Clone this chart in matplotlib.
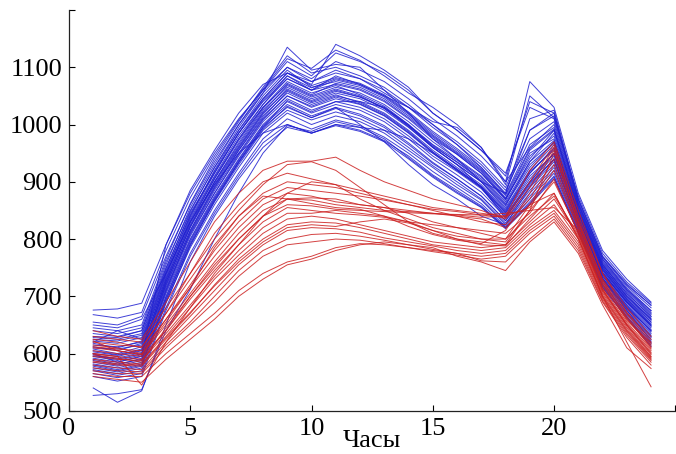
import matplotlib
matplotlib.use("Agg")
import matplotlib.pyplot as plt

# --- Data: hourly load profiles (hours 1..24) ---
hours = list(range(1, 25))

blue_profiles = [
    [676, 678, 688, 790, 880, 950, 1010, 1060, 1100, 1080, 1110, 1095, 1075, 1045, 1010, 980, 945, 900, 1075, 1030, 880, 780, 730, 690],
    [655, 650, 665, 770, 860, 935, 1000, 1055, 1135, 1095, 1105, 1100, 1060, 1020, 975, 940, 900, 880, 1010, 1025, 870, 770, 720, 685],
    [640, 635, 645, 760, 850, 925, 990, 1045, 1090, 1070, 1140, 1120, 1095, 1065, 1020, 990, 955, 915, 1030, 1010, 865, 765, 715, 675],
    [630, 628, 640, 750, 845, 915, 985, 1040, 1080, 1060, 1085, 1070, 1050, 1030, 1005, 995, 960, 900, 960, 1000, 860, 760, 710, 670],
    [625, 622, 632, 745, 840, 920, 990, 1050, 1095, 1065, 1075, 1065, 1045, 1015, 980, 950, 918, 870, 940, 990, 855, 755, 705, 665],
    [620, 640, 625, 740, 830, 905, 975, 1030, 1070, 1050, 1065, 1055, 1035, 1005, 970, 940, 910, 865, 935, 985, 850, 752, 700, 660],
    [615, 612, 620, 735, 835, 910, 980, 1035, 1085, 1060, 1070, 1060, 1040, 1010, 975, 948, 915, 868, 950, 975, 848, 750, 698, 658],
    [612, 605, 618, 730, 825, 900, 965, 1025, 1065, 1045, 1060, 1048, 1030, 998, 962, 935, 905, 860, 925, 970, 845, 748, 695, 655],
    [608, 600, 612, 725, 820, 895, 960, 1020, 1060, 1040, 1055, 1045, 1025, 995, 960, 930, 900, 855, 920, 965, 842, 745, 692, 652],
    [605, 598, 608, 728, 828, 905, 972, 1030, 1075, 1055, 1068, 1052, 1032, 1000, 965, 938, 908, 862, 930, 968, 846, 746, 694, 650],
    [600, 595, 605, 720, 815, 890, 955, 1015, 1055, 1035, 1050, 1040, 1020, 990, 955, 925, 895, 850, 915, 960, 840, 742, 690, 648],
    [598, 590, 600, 722, 822, 898, 962, 1022, 1068, 1048, 1062, 1050, 1028, 996, 960, 930, 900, 852, 918, 955, 838, 740, 688, 645],
    [595, 588, 598, 715, 810, 885, 950, 1010, 1050, 1030, 1045, 1035, 1015, 985, 950, 920, 890, 845, 905, 950, 835, 738, 685, 642],
    [592, 585, 595, 712, 808, 880, 945, 1005, 1045, 1025, 1040, 1030, 1010, 980, 945, 918, 888, 842, 900, 945, 832, 735, 682, 640],
    [590, 582, 590, 710, 812, 888, 955, 1012, 1058, 1038, 1052, 1038, 1018, 988, 952, 922, 892, 846, 910, 948, 834, 736, 684, 638],
    [585, 578, 588, 705, 800, 875, 940, 1000, 1040, 1020, 1035, 1025, 1005, 975, 940, 912, 882, 838, 895, 940, 828, 732, 680, 635],
    [582, 575, 585, 700, 798, 872, 938, 998, 1035, 1015, 1030, 1000, 970, 930, 895, 870, 840, 825, 890, 935, 825, 730, 678, 632],
    [580, 572, 582, 698, 795, 870, 935, 995, 1030, 1012, 1028, 1015, 995, 965, 932, 905, 875, 832, 885, 930, 822, 728, 675, 630],
    [575, 568, 578, 695, 790, 865, 930, 990, 1025, 1008, 1022, 1010, 990, 960, 928, 900, 870, 828, 880, 925, 820, 725, 672, 628],
    [572, 565, 575, 690, 785, 860, 925, 985, 1020, 1000, 1015, 1005, 985, 955, 925, 895, 868, 825, 875, 920, 818, 722, 670, 625],
    [570, 562, 570, 688, 788, 866, 935, 995, 1042, 1022, 1040, 1040, 1030, 1000, 960, 930, 890, 836, 898, 938, 826, 730, 676, 622],
    [565, 558, 565, 680, 775, 850, 915, 975, 1010, 992, 1008, 998, 978, 950, 918, 890, 862, 822, 870, 915, 815, 720, 668, 620],
    [560, 552, 560, 675, 770, 845, 910, 968, 1000, 985, 1000, 990, 972, 945, 912, 885, 858, 820, 865, 910, 812, 718, 665, 618],
    [540, 515, 535, 650, 760, 840, 905, 960, 995, 985, 998, 988, 970, 940, 908, 880, 855, 818, 860, 905, 810, 715, 662, 615],
    [527, 530, 537, 640, 712, 800, 880, 950, 998, 988, 1005, 995, 975, 942, 910, 882, 856, 820, 862, 908, 812, 716, 664, 612],
    [650, 645, 660, 740, 830, 895, 950, 985, 1000, 985, 1000, 995, 990, 975, 950, 920, 890, 840, 900, 950, 835, 740, 690, 650],
    [645, 640, 650, 765, 862, 940, 1005, 1065, 1120, 1090, 1100, 1085, 1065, 1035, 1000, 970, 935, 890, 990, 1015, 868, 768, 718, 680],
    [635, 630, 640, 755, 855, 930, 1000, 1060, 1110, 1085, 1125, 1110, 1090, 1060, 1020, 990, 955, 910, 1040, 1020, 870, 770, 722, 684],
    [628, 625, 635, 748, 848, 925, 995, 1055, 1100, 1075, 1090, 1080, 1060, 1030, 995, 965, 930, 885, 975, 1005, 862, 762, 712, 675],
    [618, 610, 622, 738, 838, 915, 985, 1045, 1090, 1068, 1082, 1072, 1052, 1022, 988, 958, 925, 878, 965, 995, 858, 758, 708, 668],
    [603, 597, 606, 725, 822, 900, 968, 1028, 1072, 1052, 1072, 1062, 1042, 1012, 978, 948, 915, 870, 945, 980, 850, 752, 700, 660],
    [596, 592, 602, 718, 815, 892, 958, 1018, 1062, 1042, 1058, 1048, 1028, 998, 964, 934, 902, 858, 935, 972, 845, 748, 696, 655],
    [588, 580, 592, 708, 805, 880, 948, 1008, 1050, 1032, 1048, 1036, 1016, 986, 952, 922, 892, 848, 915, 958, 838, 742, 690, 648],
    [578, 570, 580, 693, 792, 868, 933, 992, 1032, 1012, 1030, 1018, 998, 968, 934, 905, 875, 832, 892, 940, 828, 732, 680, 640],
    [610, 608, 615, 732, 832, 908, 975, 1035, 1080, 1060, 1078, 1068, 1048, 1018, 982, 952, 920, 872, 955, 990, 852, 755, 702, 662],
    [622, 618, 628, 742, 842, 918, 985, 1042, 1085, 1064, 1080, 1070, 1050, 1020, 985, 955, 922, 876, 958, 992, 855, 756, 705, 665],
    [668, 662, 672, 780, 872, 945, 1008, 1062, 1115, 1098, 1130, 1112, 1085, 1055, 1030, 1000, 960, 895, 1050, 1012, 875, 775, 725, 688],
    [600, 585, 596, 790, 885, 955, 1020, 1070, 1090, 1075, 1095, 1080, 1055, 1030, 1000, 965, 925, 880, 990, 1020, 862, 765, 712, 672],
]

red_profiles = [
    [640, 630, 625, 690, 760, 830, 880, 920, 936, 936, 943, 920, 900, 885, 870, 860, 850, 835, 890, 960, 840, 740, 680, 630],
    [630, 625, 620, 680, 740, 800, 850, 895, 930, 935, 920, 890, 860, 830, 810, 800, 795, 790, 850, 950, 830, 730, 670, 620],
    [620, 615, 612, 670, 730, 790, 840, 880, 900, 895, 890, 880, 870, 860, 850, 840, 830, 825, 870, 940, 825, 725, 665, 615],
    [615, 610, 600, 660, 715, 770, 820, 860, 880, 875, 865, 860, 855, 850, 845, 840, 835, 820, 860, 930, 820, 720, 660, 612],
    [610, 605, 598, 650, 705, 760, 810, 850, 870, 868, 860, 855, 850, 848, 845, 842, 838, 840, 855, 920, 818, 715, 655, 608],
    [605, 600, 595, 640, 700, 755, 800, 840, 860, 858, 852, 850, 848, 846, 844, 843, 842, 845, 850, 855, 815, 712, 652, 605],
    [600, 595, 590, 640, 695, 745, 790, 830, 855, 850, 845, 842, 838, 830, 825, 820, 815, 810, 845, 905, 810, 710, 650, 600],
    [595, 590, 588, 635, 685, 735, 780, 820, 845, 845, 850, 845, 840, 830, 815, 805, 800, 800, 840, 875, 808, 708, 648, 598],
    [590, 585, 582, 630, 680, 730, 772, 810, 835, 840, 835, 825, 815, 805, 795, 790, 785, 790, 830, 870, 805, 705, 645, 595],
    [585, 580, 578, 625, 670, 720, 765, 800, 825, 830, 828, 820, 810, 800, 790, 785, 780, 785, 825, 860, 800, 700, 640, 592],
    [580, 575, 572, 620, 665, 710, 755, 790, 815, 820, 818, 812, 802, 795, 788, 780, 775, 780, 820, 850, 795, 698, 638, 590],
    [575, 570, 568, 615, 655, 700, 745, 780, 800, 808, 810, 805, 798, 790, 782, 775, 770, 775, 815, 845, 790, 695, 635, 588],
    [570, 565, 565, 610, 650, 690, 735, 770, 790, 795, 800, 798, 792, 785, 778, 772, 765, 770, 810, 840, 785, 692, 632, 585],
    [565, 560, 560, 600, 635, 670, 710, 740, 760, 770, 785, 792, 790, 785, 780, 775, 762, 760, 800, 835, 780, 690, 628, 580],
    [560, 555, 550, 590, 625, 660, 700, 730, 755, 765, 780, 790, 795, 790, 785, 770, 760, 745, 795, 830, 775, 685, 610, 574],
    [600, 595, 545, 620, 680, 740, 790, 840, 870, 872, 870, 860, 855, 845, 830, 820, 810, 800, 860, 880, 800, 700, 620, 542],
    [625, 620, 610, 670, 740, 810, 860, 900, 915, 905, 895, 885, 875, 865, 855, 850, 845, 840, 920, 970, 850, 740, 672, 625],
    [612, 608, 605, 660, 720, 780, 830, 870, 890, 885, 880, 875, 868, 860, 852, 848, 842, 838, 900, 965, 835, 728, 662, 610],
    [598, 592, 585, 645, 700, 750, 800, 840, 880, 900, 895, 870, 850, 835, 820, 810, 800, 795, 850, 900, 812, 712, 650, 602],
    [587, 582, 580, 628, 672, 718, 760, 795, 820, 825, 822, 830, 835, 828, 815, 800, 790, 788, 835, 880, 802, 702, 642, 594],
    [622, 605, 598, 655, 715, 785, 840, 875, 870, 862, 855, 852, 840, 822, 808, 798, 792, 815, 880, 955, 828, 722, 658, 618],
]

x_ticks = [0, 5, 10, 15, 20, 25]
x_ticklabels = ["0", "5", "10", "15", "20", ""]
y_ticks = [500, 600, 700, 800, 900, 1000, 1100, 1200]
y_ticklabels = ["500", "600", "700", "800", "900", "1000", "1100", ""]

plt.rcParams['font.family'] = ['Liberation Serif', 'DejaVu Serif']

fig = plt.figure(figsize=(6.76, 4.54), dpi=100)
ax = fig.add_axes([0.102, 0.095, 0.897, 0.883])

for prof in blue_profiles:
    ax.plot(hours, prof, color="#1f1fd0", lw=0.7, alpha=0.85)
for prof in red_profiles:
    ax.plot(hours, prof, color="#cc2020", lw=0.7, alpha=0.85)

ax.set_xlim(0, 25)
ax.set_ylim(500, 1200)
ax.set_xticks(x_ticks)
ax.set_xticklabels(x_ticklabels)
ax.set_yticks(y_ticks)
ax.set_yticklabels(y_ticklabels)
ax.tick_params(direction='in', length=4, width=0.8, labelsize=19, pad=5)

for side in ('top', 'right'):
    ax.spines[side].set_visible(False)
for side in ('left', 'bottom'):
    ax.spines[side].set_color("#222222")
    ax.spines[side].set_linewidth(0.9)

ax.set_xlabel("Часы", fontsize=19, labelpad=-7)

fig.savefig("out.png", dpi=100)
